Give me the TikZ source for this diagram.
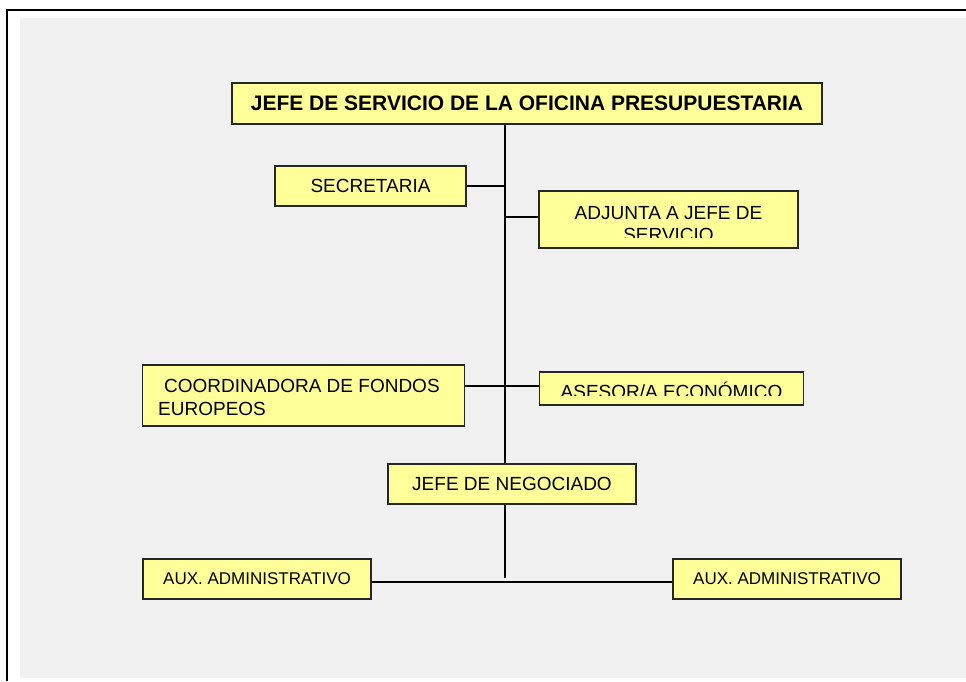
\documentclass[tikz,border=0pt]{standalone}
\usepackage{fontspec}
\setmainfont{Liberation Sans}
\definecolor{amarillo}{HTML}{FFFF99}
\definecolor{fondo}{HTML}{F1F1F1}
\begin{document}
\begin{tikzpicture}[x=1pt,y=-1pt,
  caja/.style={draw=black!85,line width=1.3pt,fill=amarillo,inner sep=0pt,
    font=\fontsize{19}{22}\selectfont},
  letra/.style={font=\fontsize{19}{22}\selectfont,inner sep=0pt},
  linea/.style={line width=2pt}]
\useasboundingbox (0,0) rectangle (966,681);
\fill [fondo] (20,18) rectangle (966,678);
\draw [line width=2pt] (7,681) -- (7,10) -- (966,10);
% cajas
\node [caja,name=jefe,minimum width=590pt,minimum height=41pt,font=\fontsize{21}{25}\selectfont\bfseries] at (527,103.5){JEFE DE SERVICIO DE LA OFICINA PRESUPUESTARIA};
\node [caja,name=secre,minimum width=191pt,minimum height=40pt] at (370.5,186){SECRETARIA};
\node [caja,name=adj,minimum width=259pt,minimum height=57pt] at (668.5,219.5){};
\node [caja,name=coord,minimum width=322pt,minimum height=61pt] at (303.5,395.5){};
\node [caja,name=ases,minimum width=264pt,minimum height=33pt] at (671.5,388.5){};
\node [caja,name=neg,minimum width=248pt,minimum height=40pt] at (512,484){JEFE DE NEGOCIADO};
\node [caja,name=auxi,minimum width=228pt,minimum height=40pt,font=\fontsize{17}{20}\selectfont] at (257,579){AUX. ADMINISTRATIVO};
\node [caja,name=auxd,minimum width=228pt,minimum height=40pt,font=\fontsize{17}{20}\selectfont] at (787,579){AUX. ADMINISTRATIVO};
% textos
\node [letra,anchor=base west,name=coord1] at (164,392){COORDINADORA DE FONDOS};
\node [letra,anchor=base west,name=coord2] at (158,415){EUROPEOS};
\begin{scope}
\clip ([yshift=11pt]adj.south west) rectangle (adj.north east);
\node [letra,anchor=base,name=adj1] at (668.5,219){ADJUNTA A JEFE DE};
\node [letra,anchor=base,name=adj2] at (668.5,241){SERVICIO};
\end{scope}
\begin{scope}
\clip ([yshift=10pt]ases.south west) rectangle (ases.north east);
\node [letra,anchor=base,name=ases1] at (671.5,398.5){ASESOR/A ECONÓMICO};
\end{scope}
% lineas
\coordinate (fin) at (505,578);
\path ([yshift=2.5pt]adj.west) coordinate (adjc);
\path ([yshift=3pt]ases.west) coordinate (asesc);
\path ([yshift=-3pt]auxi.east) coordinate (auxc);
\draw [linea] (jefe.south -| fin) -- (neg.north -| fin);
\draw [linea] (neg.south -| fin) -- (fin);
\draw [linea] (secre.east) -- (secre.east -| fin);
\draw [linea] (adjc -| fin) -- (adjc);
\draw [linea] (coord.east |- asesc) -- (asesc);
\draw [linea] (auxc) -- (auxc -| auxd.west);
\end{tikzpicture}
\end{document}
